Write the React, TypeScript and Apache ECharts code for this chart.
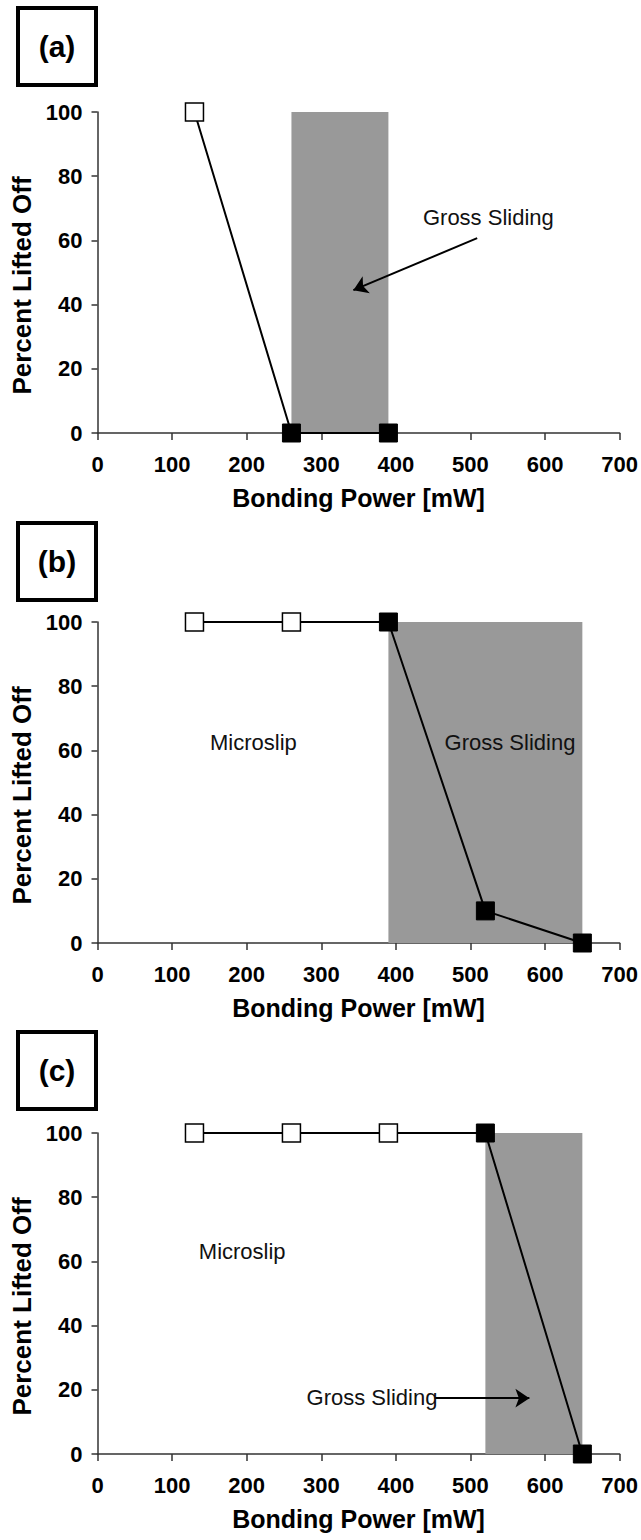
import React, { useEffect, useRef } from "react";
import * as echarts from "echarts";

const bondingPowerA = [130, 260, 390];
const liftedOffA = [100, 0, 0];
const filledA = [false, true, true];

const bondingPowerB = [130, 260, 390, 520, 650];
const liftedOffB = [100, 100, 100, 10, 0];
const filledB = [false, false, true, true, true];

const bondingPowerC = [130, 260, 390, 520, 650];
const liftedOffC = [100, 100, 100, 100, 0];
const filledC = [false, false, false, true, true];

const grossSlidingA = [260, 390];
const grossSlidingB = [390, 650];
const grossSlidingC = [520, 650];

const panelLabels = ["(a)", "(b)", "(c)"];
const xTitle = "Bonding Power [mW]";
const yTitle = "Percent Lifted Off";
const grossText = "Gross Sliding";
const microText = "Microslip";

const FONT = "'Liberation Sans', Arial, Helvetica, sans-serif";

export default function App() {
  const ref = useRef<HTMLDivElement>(null);

  useEffect(() => {
    if (!ref.current) return;
    const chart = echarts.init(ref.current, null, { renderer: "svg" });

    const gridTops = [112, 622, 1133];
    const gridH = 321;
    const left = 97.5;
    const width = 522.5;

    const panels = [
      {
        xs: bondingPowerA, ys: liftedOffA, filled: filledA, range: grossSlidingA,
        texts: [{ name: grossText, coord: [524, 67] }],
        arrows: [[[509, 60.7], [343, 44.5]]],
      },
      {
        xs: bondingPowerB, ys: liftedOffB, filled: filledB, range: grossSlidingB,
        texts: [
          { name: microText, coord: [209, 62.6] },
          { name: grossText, coord: [553, 62.6] },
        ],
        arrows: [],
      },
      {
        xs: bondingPowerC, ys: liftedOffC, filled: filledC, range: grossSlidingC,
        texts: [
          { name: microText, coord: [194, 63] },
          { name: grossText, coord: [368, 17.6] },
        ],
        arrows: [[[452, 17.4], [579, 17.4]]],
      },
    ];

    const grid = gridTops.map((t) => ({ left, top: t, width, height: gridH, containLabel: false }));

    const xAxis = gridTops.map((_, i) => ({
      type: "value",
      gridIndex: i,
      min: 0,
      max: 700,
      interval: 100,
      name: xTitle,
      nameLocation: "middle",
      nameGap: 52,
      nameTextStyle: { fontFamily: FONT, fontWeight: "bold", fontSize: 25, color: "#000" },
      axisLine: { show: true, onZero: false, lineStyle: { color: "#333", width: 1.5 } },
      axisTick: { show: true, inside: false, length: 7, lineStyle: { color: "#333", width: 1.5 } },
      axisLabel: { fontFamily: FONT, fontWeight: "bold", fontSize: 22, color: "#000", margin: 20 },
      splitLine: { show: false },
    }));

    const yAxis = gridTops.map((_, i) => ({
      type: "value",
      gridIndex: i,
      min: 0,
      max: 100,
      interval: 20,
      name: yTitle,
      nameLocation: "middle",
      nameGap: 58,
      nameTextStyle: {
        fontFamily: FONT, fontWeight: "bold", fontSize: 26, color: "#000",
        padding: [0, 26, 0, 0],
      },
      axisLine: { show: true, lineStyle: { color: "#333", width: 1.5 } },
      axisTick: { show: true, inside: false, length: 6, lineStyle: { color: "#333", width: 1.5 } },
      axisLabel: { fontFamily: FONT, fontWeight: "bold", fontSize: 22, color: "#000", margin: 15 },
      splitLine: { show: false },
    }));

    const series = panels.map((p, i) => ({
      type: "line",
      xAxisIndex: i,
      yAxisIndex: i,
      z: 3,
      symbol: "rect",
      symbolSize: 18,
      showSymbol: true,
      lineStyle: { color: "#000", width: 2 },
      itemStyle: { color: "#000" },
      data: p.xs.map((x, k) => ({
        value: [x, p.ys[k]],
        itemStyle: p.filled[k]
          ? { color: "#000", borderColor: "#000", borderWidth: 1 }
          : { color: "#fff", borderColor: "#000", borderWidth: 1.5 },
      })),
      markArea: {
        silent: true,
        z: 1,
        itemStyle: { color: "#999999", opacity: 1 },
        label: { show: false },
        data: [[{ coord: [p.range[0], 0] }, { coord: [p.range[1], 100] }]],
      },
      markPoint: {
        silent: true,
        symbol: "rect",
        symbolSize: 1,
        itemStyle: { color: "rgba(0,0,0,0)" },
        label: {
          show: true,
          position: "inside",
          formatter: "{b}",
          fontFamily: FONT,
          fontSize: 22,
          color: "#111",
        },
        data: p.texts.map((t) => ({ name: t.name, coord: t.coord })),
      },
      markLine: {
        silent: true,
        symbol: ["none", "arrow"],
        symbolSize: 14,
        lineStyle: { color: "#000", width: 2, type: "solid" },
        label: { show: false },
        data: p.arrows.map((a) => [{ coord: a[0] }, { coord: a[1] }]),
      },
    }));

    const boxTops = [8, 523, 1032];
    const graphic = boxTops.flatMap((bt, i) => [
      {
        type: "rect",
        shape: { x: 18, y: bt, width: 78, height: 77 },
        style: { fill: "#fff", stroke: "#000", lineWidth: 4 },
      },
      {
        type: "text",
        x: 57,
        y: bt + 38.5,
        style: {
          text: panelLabels[i],
          fontFamily: FONT,
          fontWeight: "bold",
          fontSize: 30,
          fill: "#000",
          align: "center",
          verticalAlign: "middle",
        },
      },
    ]);

    chart.setOption({
      animation: false,
      backgroundColor: "#fff",
      grid,
      xAxis,
      yAxis,
      series,
      graphic,
    });

    return () => chart.dispose();
  }, []);

  return (
    <div
      ref={ref}
      style={{ position: "absolute", left: 0, top: 0, width: 641, height: 1540 }}
    />
  );
}
